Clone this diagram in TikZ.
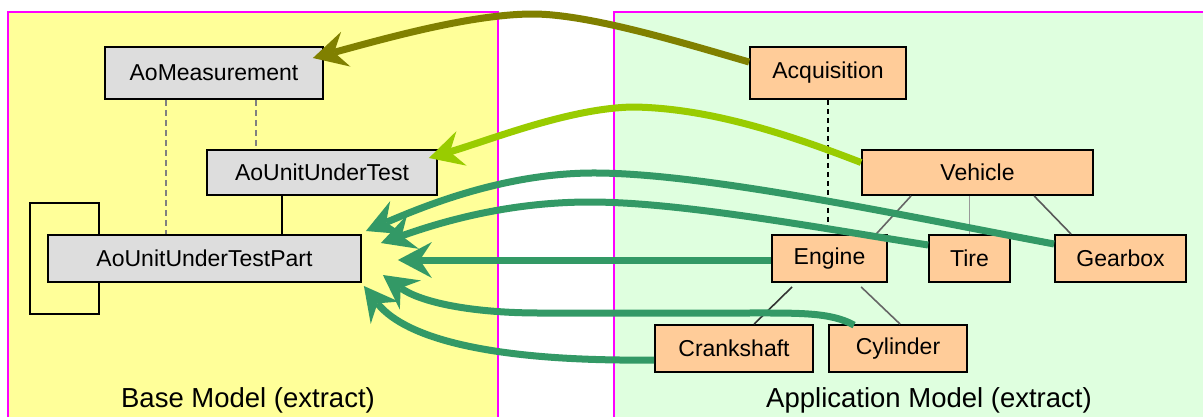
\documentclass[tikz,border=0pt]{standalone}
\usepackage{fontspec}
\setmainfont{Liberation Sans}
\usetikzlibrary{arrows.meta,calc}
\definecolor{panelY}{HTML}{FFFF99}
\definecolor{panelG}{HTML}{DFFFDF}
\definecolor{magB}{HTML}{FF00FF}
\definecolor{boxGray}{HTML}{DDDDDD}
\definecolor{boxOrange}{HTML}{FFCC99}
\definecolor{olivec}{HTML}{808000}
\definecolor{limec}{HTML}{99CC00}
\definecolor{seac}{HTML}{339966}
\begin{document}
\begin{tikzpicture}[x=1pt,y=-1pt,
  panel/.style={draw=magB, line width=1.6pt},
  gbox/.style={draw=black, line width=1.8pt, fill=boxGray, inner sep=0pt, font=\fontsize{23pt}{27pt}\selectfont},
  obox/.style={draw=black, line width=1.8pt, fill=boxOrange, inner sep=0pt, font=\fontsize{23pt}{27pt}\selectfont},
  caption/.style={anchor=base, inner sep=0pt, font=\fontsize{27.5pt}{32pt}\selectfont},
  link/.style={line width=7pt, line cap=butt, -{Stealth[length=34pt,width=36pt,inset=12pt,line width=0pt]}},
  graydash/.style={draw=black!50, line width=2.2pt, dash pattern=on 6pt off 4pt},
  blackdash/.style={draw=black, line width=1.5pt, dash pattern=on 5pt off 4pt},
  tree/.style={line width=1.6pt}
]
\useasboundingbox (0,0) rectangle (1203,416);
\clip (0,0) rectangle (1203,416);
\fill[white] (0,0) rectangle (1203,416);
% panels
\draw[panel, fill=panelY] (8,12) rectangle (498,440);
\draw[panel, fill=panelG] (614,12) rectangle (1240,440);
\node[caption] (basecap) at (248,407) {Base Model (extract)};
\node[caption] (appcap) at (929,407) {Application Model (extract)};
% base model nodes
\node[gbox, minimum width=218pt, minimum height=52pt] (aomeas) at (214,73) {AoMeasurement};
\node[gbox, minimum width=230pt, minimum height=45pt] (aout) at (322,172.5) {AoUnitUnderTest};
\node[gbox, minimum width=313pt, minimum height=47pt] (aoutp) at (204.5,258.5) {AoUnitUnderTestPart};
% base model lines
\draw[graydash] ($(aomeas.south west)+(62,0)$) -- ($(aoutp.north west)+(119,0)$);
\draw[graydash] ($(aomeas.south west)+(152,0)$) -- ($(aout.north west)+(50,0)$);
\draw[black, line width=1.5pt] ($(aout.south west)+(76,0)$) -- ($(aoutp.north west)+(235,0)$);
\coordinate (loopA) at (30,203);
\draw[black, line width=1.5pt] ($(aoutp.north west)+(52,0)$) |- (loopA) |- ($(aoutp.south west)+(52,31)$) -- ($(aoutp.south west)+(52,0)$);
% application model nodes
\node[obox, minimum width=156pt, minimum height=52pt] (acq) at (828,73) {Acquisition};
\node[obox, minimum width=231pt, minimum height=45pt] (vehicle) at (977.5,172.5) {Vehicle};
\node[obox, minimum width=115pt, minimum height=47pt] (engine) at (829.5,258.5) {Engine};
\node[obox, minimum width=81pt, minimum height=47pt] (tire) at (969.5,258.5) {Tire};
\node[obox, minimum width=131pt, minimum height=47pt] (gearbox) at (1120.5,258.5) {Gearbox};
\node[obox, minimum width=158pt, minimum height=47pt] (crank) at (734,348.5) {Crankshaft};
\node[obox, minimum width=138pt, minimum height=47pt] (cyl) at (898,348.5) {Cylinder};
% application model lines
\draw[blackdash] (acq.south) -- (acq.south |- engine.north);
\draw[tree, draw=black!60] ($(vehicle.south west)+(50,0)$) -- ($(engine.north west)+(105,0)$);
\draw[tree, draw=black!40] (vehicle.south -| tire.north) -- (tire.north);
\draw[tree, draw=black!65] ($(vehicle.south west)+(173,0)$) -- ($(gearbox.north west)+(17,0)$);
\draw[tree, draw=black!80] ($(engine.south west)+(21,4)$) -- ($(crank.north west)+(100,0)$);
\draw[tree, draw=black!60] ($(engine.south west)+(90,4)$) -- ($(cyl.north west)+(72,0)$);
% mapping arrows
\draw[link, draw=olivec] ($(acq.west)+(0,-11)$) .. controls (690,45) and (590,14) .. (533,14) .. controls (470,14) and (380,40) .. ($(aomeas.east)+(-11,-15)$);
\draw[link, draw=limec] ($(vehicle.west)+(0,-10)$) .. controls (790,135) and (710,108) .. (633,107) .. controls (570,108) and (490,140) .. ($(aout.east)+(-9,-14.5)$);
\draw[link, draw=seac] ($(gearbox.west)+(0,-14.5)$) .. controls (900,215) and (700,172) .. (590,173) .. controls (500,174) and (420,208) .. ($(aoutp.east)+(4,-27.5)$);
\draw[link, draw=seac] ($(tire.west)+(0,-13.5)$) .. controls (820,228) and (680,202) .. (590,202) .. controls (500,202) and (430,226) .. ($(aoutp.east)+(19,-15.5)$);
\draw[link, draw=seac] ($(engine.west)+(0,1.5)$) -- ($(aoutp.east)+(36,1.5)$);
\draw[link, draw=seac] ($(cyl.north west)+(26,1)$) .. controls (830,312) and (800,313) .. (740,313) -- (540,313) .. controls (470,313) and (420,302) .. ($(aoutp.east)+(21,16.5)$);
\draw[link, draw=seac] ($(crank.west)+(0,11.5)$) .. controls (470,362) and (400,332) .. ($(aoutp.east)+(2,27.5)$);
\end{tikzpicture}
\end{document}
